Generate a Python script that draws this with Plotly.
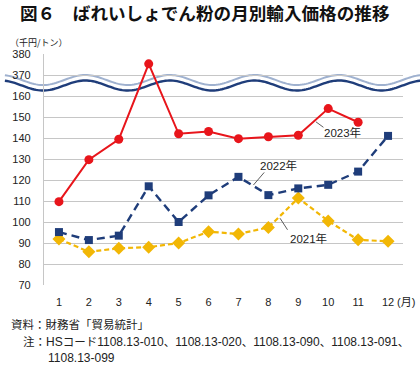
import re
import math
import plotly.graph_objects as go

# ---------------- data ----------------
months = [1, 2, 3, 4, 5, 6, 7, 8, 9, 10, 11, 12]
month_labels = ["1", "2", "3", "4", "5", "6", "7", "8", "9", "10", "11", "12"]
price_2021 = [91.9, 85.8, 87.5, 88.0, 90.0, 95.4, 94.3, 97.4, 111.4, 100.5, 91.5, 90.8]
price_2022 = [95.2, 91.4, 93.5, 117.0, 100.0, 112.7, 121.5, 112.8, 116.0, 117.7, 124.0, 141.0]
price_2023 = [109.7, 129.7, 139.4, 375.3, 142.0, 143.1, 139.7, 140.6, 141.3, 154.0, 147.5]
y_tick_values = [70, 80, 90, 100, 110, 120, 130, 140, 150, 160, 370, 380]
series_names = ["2021年", "2022年", "2023年"]

# broken axis: values above the break (>=370) are shifted down by 200
BREAK_SHIFT = 200
def disp(v):
    return v - BREAK_SHIFT if v > 165 else v

# ---------------- layout geometry ----------------
W, H = 420, 369
ML, MR, MT, MB = 36, 17, 54, 84
PW, PH = W - ML - MR, H - MT - MB

def px2paper_x(px):
    return (px - ML) / PW

def px2paper_y(py):
    return (H - MB - py) / PH

CJK_FONT = "Noto Sans CJK JP"
LAT_FONT = "Liberation Sans, Arial, Noto Sans CJK JP"

def mixed(text, cjk_size, lat_size):
    parts = re.split(r"([\x20-\x7e]+)", text)
    out = []
    for p in parts:
        if not p:
            continue
        if re.fullmatch(r"[\x20-\x7e]+", p):
            out.append(f"<span style='font-size:{lat_size}px'>{p}</span>")
        else:
            out.append(f"<span style='font-size:{cjk_size}px;font-family:\"Noto Sans CJK JP\"'>{p}</span>")
    return "".join(out)

fig = go.Figure()

fig.add_trace(go.Scatter(
    x=months, y=[disp(v) for v in price_2021], mode="lines+markers", name=series_names[0],
    line=dict(color="#f2b705", width=2.2, dash="5px,3px"),
    marker=dict(symbol="diamond", size=10, color="#f2b705"),
))
fig.add_trace(go.Scatter(
    x=months, y=[disp(v) for v in price_2022], mode="lines+markers", name=series_names[1],
    line=dict(color="#1f3d7a", width=2.4, dash="8px,5px"),
    marker=dict(symbol="square", size=8, color="#1f3d7a"),
))
fig.add_trace(go.Scatter(
    x=months[:len(price_2023)], y=[disp(v) for v in price_2023], mode="lines+markers", name=series_names[2],
    line=dict(color="#e8151b", width=2),
    marker=dict(symbol="circle", size=9, color="#e8151b"),
))

# ---------------- wavy break band ----------------
P = 86.5
def wave(px, center, amp=5.0):
    return center + amp * math.cos(2 * math.pi * (px - 35) / P)

xs = [x * 1.0 for x in range(-4, 426, 2)]
light = [(x, wave(x, 80.0)) for x in xs]
dark = [(x, wave(x, 85.5)) for x in xs]

def path_of(pts):
    return "M " + " L ".join(f"{px2paper_x(x):.5f},{px2paper_y(y):.5f}" for x, y in pts)

fill_pts = light + dark[::-1]
shapes = [
    dict(type="path", xref="paper", yref="paper", path=path_of(fill_pts) + " Z",
         fillcolor="white", line=dict(width=0), layer="below"),
    dict(type="path", xref="paper", yref="paper", path=path_of(light),
         line=dict(color="#9fb1cf", width=2), layer="below"),
    dict(type="path", xref="paper", yref="paper", path=path_of(dark),
         line=dict(color="#1f3d7a", width=2.4), layer="below"),
]

# leader lines (data coords)
leaders = [
    (9.59, 147.7, 9.84, 145.1),
    (7.50, 117.6, 7.86, 123.6),
    (8.39, 101.8, 8.64, 96.3),
]
for x0, y0, x1, y1 in leaders:
    shapes.append(dict(type="line", xref="x", yref="y", x0=x0, y0=y0, x1=x1, y1=y1,
                       line=dict(color="#333333", width=0.8)))

annotations = [
    dict(x=10.49, y=142.5, xref="x", yref="y", text=series_names[2], showarrow=False,
         font=dict(size=11.5, color="#222", family=LAT_FONT)),
    dict(x=8.35, y=126.8, xref="x", yref="y", text=series_names[1], showarrow=False,
         font=dict(size=11.5, color="#222", family=LAT_FONT)),
    dict(x=9.35, y=92.3, xref="x", yref="y", text=series_names[0], showarrow=False,
         font=dict(size=11.5, color="#222", family=LAT_FONT)),
    # title
    dict(x=px2paper_x(9), y=px2paper_y(13), xref="paper", yref="paper", xanchor="left", yanchor="middle",
         text="<b>図６　ばれいしょでん粉の月別輸入価格の推移</b>", showarrow=False,
         font=dict(size=17.6, color="#111", family=CJK_FONT)),
    # unit
    dict(x=px2paper_x(-1), y=px2paper_y(42), xref="paper", yref="paper", xanchor="left", yanchor="middle",
         text="（千円/トン）", showarrow=False,
         font=dict(size=9, color="#222", family=CJK_FONT)),
    # month unit
    dict(x=px2paper_x(395), y=px2paper_y(301.5), xref="paper", yref="paper", xanchor="left", yanchor="middle",
         text="(月)", showarrow=False,
         font=dict(size=11, color="#222", family=LAT_FONT)),
    # footnotes
    dict(x=px2paper_x(0), y=px2paper_y(324), xref="paper", yref="paper", xanchor="left", yanchor="middle",
         text=mixed("資料：財務省「貿易統計」", 11.5, 12), showarrow=False,
         font=dict(size=12, color="#222", family=LAT_FONT)),
    dict(x=px2paper_x(12), y=px2paper_y(341), xref="paper", yref="paper", xanchor="left", yanchor="middle",
         text=mixed("注：HSコード1108.13-010、1108.13-020、1108.13-090、1108.13-091、", 11.5, 12),
         showarrow=False, font=dict(size=12, color="#222", family=LAT_FONT)),
    dict(x=px2paper_x(38), y=px2paper_y(358), xref="paper", yref="paper", xanchor="left", yanchor="middle",
         text=mixed("1108.13-099", 11.5, 12), showarrow=False,
         font=dict(size=12, color="#222", family=LAT_FONT)),
]

fig.update_layout(
    width=W, height=H,
    margin=dict(l=ML, r=MR, t=MT, b=MB, pad=0),
    paper_bgcolor="white", plot_bgcolor="white",
    showlegend=False,
    shapes=shapes,
    annotations=annotations,
    font=dict(family=LAT_FONT, size=11, color="#222"),
)
fig.update_xaxes(
    range=[0.5, 12.5], tickvals=months, ticktext=month_labels,
    showgrid=False, zeroline=False, showline=False, ticks="",
    ticklabelstandoff=9, tickfont=dict(size=11, color="#222", family=LAT_FONT),
)
fig.update_yaxes(
    range=[70, 180], tickvals=[disp(v) for v in y_tick_values], ticktext=[str(v) for v in y_tick_values],
    showgrid=True, gridcolor="#c6c6c6", gridwidth=1.2, zeroline=False,
    showline=True, linecolor="#c6c6c6", linewidth=1.2, ticks="",
    ticklabelstandoff=10, tickfont=dict(size=11, color="#222", family=LAT_FONT),
)

fig.write_html("out.html", config={"displayModeBar": False},
               post_script="document.body.style.margin='0';")
